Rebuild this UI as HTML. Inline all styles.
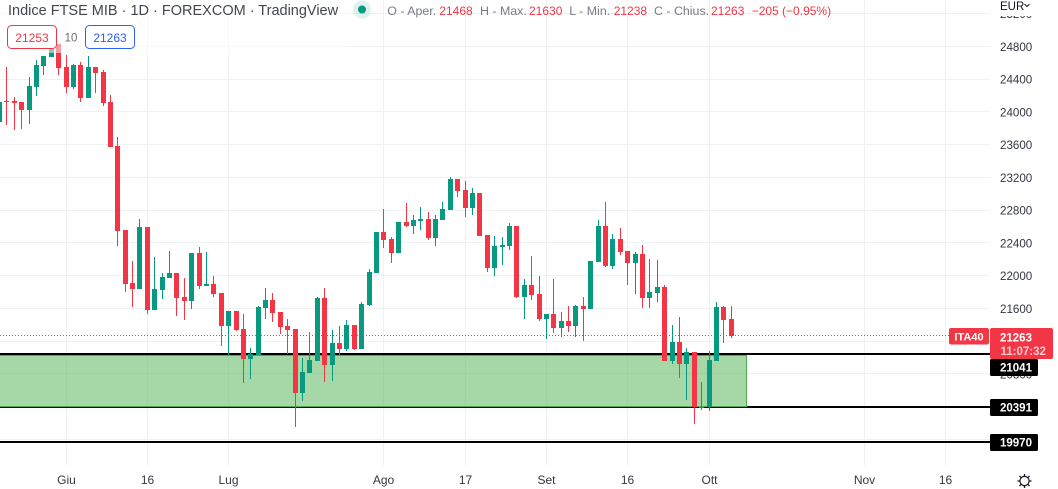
<!DOCTYPE html>
<html lang="it">
<head>
<meta charset="utf-8">
<title>Indice FTSE MIB</title>
<style>
html,body{margin:0;padding:0;background:#fff;width:1058px;height:489px;overflow:hidden}
svg{display:block;font-family:"Liberation Sans",sans-serif}
text{white-space:pre}
</style>
</head>
<body>
<svg id="chart" xmlns="http://www.w3.org/2000/svg" width="1058" height="489" viewBox="0 0 1058 489">
  <g id="grid"></g>
  <g id="levels"></g>
  <g id="zones"></g>
  <g id="candles"></g>
  <g id="last-line"></g>
  <rect x="0" y="0" width="350" height="53" fill="#fff" fill-opacity="0.5"/>
  <rect x="990" y="0" width="68" height="489" fill="#fff"/>
  <g id="price-axis"></g>
  <rect x="990" y="0" width="68" height="16" fill="#fff"/>
  <g>
    <text x="1000" y="10" font-size="11.5" fill="#131722">EUR</text>
    <path d="M1024.5 4l2.5 2.5L1029.5 4" fill="none" stroke="#131722" stroke-width="1"/>
  </g>
  <g id="time-axis"></g>
  <g id="tags"></g>

  <text x="8" y="15" font-size="14.5" fill="#434651">Indice FTSE MIB · 1D · FOREXCOM · TradingView</text>

  <circle cx="362" cy="9.5" r="9" fill="#089981" fill-opacity="0.13"/>
  <circle cx="362" cy="9.5" r="4" fill="#089981"/>

  <g>
    <text x="387.3" y="15" font-size="12.4" fill="#787b86">O - Aper.</text>
    <text x="439.3" y="15" font-size="12" fill="#f23645">21468</text>
    <text x="480" y="15" font-size="12.4" fill="#787b86">H - Max.</text>
    <text x="529" y="15" font-size="12" fill="#f23645">21630</text>
    <text x="569.3" y="15" font-size="12.4" fill="#787b86">L - Min.</text>
    <text x="613.7" y="15" font-size="12" fill="#f23645">21238</text>
    <text x="654" y="15" font-size="12.4" fill="#787b86">C - Chius.</text>
    <text x="711" y="15" font-size="12" fill="#f23645">21263</text>
    <text x="751.7" y="15" font-size="12" fill="#f23645">−205 (−0.95%)</text>
  </g>

  <g>
    <rect x="7.5" y="25.5" width="49" height="23" rx="4" fill="#fff" stroke="#f23645"/>
    <text x="32" y="42" font-size="12" text-anchor="middle" fill="#f23645">21253</text>
  </g>
  <text x="71" y="41.5" font-size="11.5" text-anchor="middle" fill="#6a6d78">10</text>
  <g>
    <rect x="85.5" y="25.5" width="49" height="23" rx="4" fill="#fff" stroke="#2962ff"/>
    <text x="110" y="42" font-size="12" text-anchor="middle" fill="#2962ff">21263</text>
  </g>

  <g fill="none" stroke="#131722">
    <circle cx="1024.5" cy="481" r="4.6" stroke-width="1.2"/>
    <path d="M1024.5 474v2.4M1024.5 485.6v2.4M1017.5 481h2.4M1029.1 481h2.4M1019.5 476l1.7 1.7M1027.8 484.3l1.7 1.7M1029.5 476l-1.7 1.7M1021.2 484.3l-1.7 1.7" stroke-width="1.3"/>
  </g>
</svg>

<script>
// Candle data (index 0 = first candle, starts just off the left edge)
const opens = [23879,24132,24128,24120,24022,24306,24563,24673,24828,24547,24299,24572,24168,24547,24486,24120,23582,22556,21909,21835,22593,21579,21823,21970,22031,21738,21689,22275,21873,21897,21787,21384,21567,21347,20981,21030,21604,21701,21555,21384,21347,20566,20809,20957,21726,20908,21176,21103,21396,21103,21640,22031,22532,22446,22275,22654,22605,22666,22691,22458,22678,22801,23179,23045,22825,23008,22495,22092,22348,22361,22605,21738,21885,21774,21469,21530,21359,21445,21384,21628,21591,22166,22605,22117,22446,22300,22153,22263,21726,21787,21860,20957,21188,20920,21066,20383,20395,20957,21616,21468];
const highs = [24168,24551,24184,24120,24421,24633,24682,24767,24828,24694,24584,24608,24682,24547,24510,24205,23692,22556,22178,22691,22593,22227,22031,22300,22031,21970,22275,22348,22287,21995,21787,21567,21567,21530,21115,21628,21848,21787,21555,21469,21347,20993,21311,21738,21848,21335,21384,21457,21396,21677,22080,22532,22813,22471,22654,22886,22740,22837,22776,22740,22898,23204,23179,23155,23069,23008,22495,22483,22471,22642,22605,21958,22239,21995,21530,21958,21555,21628,21640,21738,22178,22678,22898,22507,22581,22300,22287,22373,22202,22190,21885,21396,21494,21115,21066,20700,21079,21677,21628,21630];
const lows = [23839,23839,23778,23790,23851,24193,24449,24673,24449,24233,24278,24123,24168,24230,24070,23574,22361,21799,21616,21835,21530,21579,21713,21970,21506,21457,21591,21835,21873,21738,21140,21030,21323,20687,20736,21030,21469,21433,21286,21042,20151,20468,20809,20957,20700,20712,21030,21079,21091,21103,21628,22031,22336,22153,22275,22593,22507,22556,22434,22361,22678,22801,22960,22715,22740,22483,22043,21995,22129,22312,21726,21469,21701,21445,21225,21298,21249,21310,21249,21200,21591,22166,22105,22080,22251,21885,21774,21604,21604,21677,20957,20920,20749,20480,20187,20358,20346,20957,21176,21238];
const closes = [24123,24120,24111,24022,24315,24572,24682,24767,24539,24306,24572,24168,24547,24474,24111,23574,22544,21897,21835,22593,21579,21835,21982,22031,21726,21689,22275,21873,21897,21774,21384,21567,21335,20981,21042,21616,21701,21542,21372,21335,20566,20822,20969,21726,20908,21176,21103,21396,21103,21652,22043,22532,22434,22275,22654,22605,22678,22691,22458,22691,22813,23179,23033,22825,23008,22483,22092,22361,22373,22605,21738,21885,21762,21469,21530,21359,21445,21384,21628,21591,22178,22605,22117,22446,22287,22153,22263,21726,21799,21860,20957,21188,20920,21066,20395,20395,20969,21616,21457,21263];

// Axis data
const priceTicks = [25200,24800,24400,24000,23600,23200,22800,22400,22000,21600,21200,20800,20400,20000];
const timeLabels = ['Giu','16','Lug','Ago','17','Set','16','Ott','Nov','16'];
const timeIndexes = [8,19,30,51,62,73,84,95,116,127];

// Drawing / tag data
const levelPrices = [21041,20391,19970];
const zoneTop = 21041;
const zoneBottom = 20391;
const zoneEndIndex = 100;
const lastPrice = 21263;
const symbolName = 'ITA40';
const countdown = '11:07:32';

const SVGNS = 'http://www.w3.org/2000/svg';
const PANE_RIGHT = 990;
const PANE_BOTTOM = 465.5;
const UP = '#089981';
const DOWN = '#f23645';
const LAST_TAG_BOTTOM = 359;

function yOf(price){ return 46.3 + (24800 - price) * 0.081875; }
function xOf(index){ return Math.floor(6.95 + 7.39 * index); }

function make(tag, parent, attrs){
  const el = document.createElementNS(SVGNS, tag);
  for (const k in attrs) el.setAttribute(k, attrs[k]);
  parent.appendChild(el);
  return el;
}

const grid = document.getElementById('grid');
const zones = document.getElementById('zones');
const candles = document.getElementById('candles');
const levels = document.getElementById('levels');
const lastLayer = document.getElementById('last-line');
const priceAxis = document.getElementById('price-axis');
const timeAxis = document.getElementById('time-axis');
const tags = document.getElementById('tags');

priceTicks.forEach(function(p){
  const y = Math.floor(yOf(p)) + 0.5;
  const line = make('line', grid, {x1:0, x2:PANE_RIGHT, y1:y, y2:y, stroke:'#f0f1f4', 'stroke-width':1});
  
  
  const label = make('text', priceAxis, {x:1000, y:yOf(p) + 4.5, 'font-size':11.6, fill:'#333743'});
  
  
  label.textContent = String(p);
});

timeLabels.forEach(function(t, n){
  const x = xOf(timeIndexes[n]) + 0.5;
  const line = make('line', grid, {x1:x, x2:x, y1:0, y2:PANE_BOTTOM, stroke:'#f0f1f4', 'stroke-width':1});
  
  
  const label = make('text', timeAxis, {x:x, y:484, 'font-size':12, 'text-anchor':'middle', fill:'#333743'});
  
  
  label.textContent = t;
});

const zoneTopY = Math.round(yOf(zoneTop)) + 1.5;
const zoneBottomY = Math.round(yOf(zoneBottom)) - 0.5;
const zoneRect = make('rect', zones, {
  x:-2, y:zoneTopY, width:xOf(zoneEndIndex) + 1.5 + 2,
  height:zoneBottomY - zoneTopY,
  fill:'#4caf50', 'fill-opacity':0.5, stroke:'#4caf50', 'stroke-width':1
});



opens.forEach(function(o, n){
  const i = n - 1;
  const c = closes[n], h = highs[n], l = lows[n];
  const color = c >= o ? UP : DOWN;
  const px = xOf(i);
  const g = make('g', candles, {fill:color});
  
  
  const wt = Math.round(yOf(h)), wb = Math.round(yOf(l));
  const wick = make('rect', g, {x:px, y:wt, width:1, height:Math.max(1, wb - wt)});
  
  
  const bt = Math.round(yOf(Math.max(o, c))), bb = Math.round(yOf(Math.min(o, c)));
  const body = make('rect', g, {x:px - 2, y:bt, width:5, height:Math.max(1, bb - bt)});
  
  
});

levelPrices.forEach(function(p){
  const y = Math.round(yOf(p));
  const line = make('rect', levels, {x:0, y:y - 1, width:PANE_RIGHT, height:2, fill:'#000'});
  
  
  const top = Math.max(y - 8, LAST_TAG_BOTTOM);
  const box = make('rect', tags, {x:990, y:top, width:48, height:17, rx:1.5, fill:'#000'});
  
  
  const label = make('text', tags, {x:1000, y:top + 12.7, 'font-size':11.5, 'font-weight':'bold', fill:'#fff'});
  
  
  label.textContent = String(p);
});

const lastY = Math.floor(yOf(lastPrice)) + 0.5;
const lastLine = make('line', lastLayer, {x1:0, x2:949, y1:lastY, y2:lastY, stroke:DOWN, 'stroke-width':1, 'stroke-dasharray':'1 2'});



const symBox = make('rect', tags, {x:949, y:328, width:40, height:16.5, rx:2, fill:DOWN});


const symText = make('text', tags, {x:969, y:340.5, 'font-size':11, 'font-weight':'bold', 'text-anchor':'middle', fill:'#fff'});


symText.textContent = symbolName;

const priceBox = make('rect', tags, {x:990, y:328, width:63, height:31, rx:2, fill:DOWN});


const priceText = make('text', tags, {x:1000, y:341.5, 'font-size':11.5, 'font-weight':'bold', fill:'#fff'});


priceText.textContent = String(lastPrice);
const timerText = make('text', tags, {x:1000.5, y:355, 'font-size':11.5, 'font-weight':'bold', fill:'#fff', 'fill-opacity':0.75});


timerText.textContent = countdown;
</script>
</body>
</html>
